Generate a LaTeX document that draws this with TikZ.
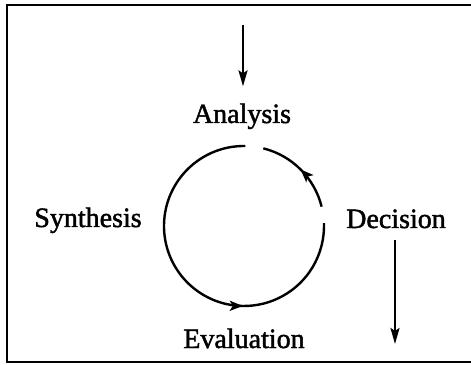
\documentclass[tikz,border=0pt]{standalone}
\usepackage{fontspec}
\setmainfont[FakeBold=1.6]{Liberation Serif}
\usetikzlibrary{arrows.meta,decorations.markings}
\begin{document}
\begin{tikzpicture}[x=1pt,y=1pt,
  label/.style={font=\fontsize{28}{30}\selectfont, anchor=base, inner sep=0pt},
  flow/.style={line width=2.4pt, -{Stealth[length=16pt,width=9pt,inset=3pt]}},
  ring/.style={line width=2.4pt},
  midtip/.style={postaction={decorate},decoration={markings,
     mark=at position #1 with {\arrow{Stealth[length=13pt,width=10pt,inset=3pt]}}}}]
  \useasboundingbox (0,0) rectangle (471,364);
  % open frame (right side runs past the page edge)
  \draw[line width=1.6pt] (471,359) -- (7,359) -- (7,2) -- (471,2);
  % stage labels
  \node[label] (ana) at (242,241) {Analysis};
  \node[label] (syn) at (88,137) {Synthesis};
  \node[label] (dec) at (396,136) {Decision};
  \node[label] (eva) at (244,16) {Evaluation};
  % incoming and outgoing arrows
  \coordinate (in) at (243,339);
  \coordinate (out) at (395,20);
  \draw[flow, shorten >=17pt] (in) -- (ana.north -| in);
  \draw[flow, shorten <=12pt] (dec.south -| out) -- (out);
  % the cycle, with gaps at Analysis and Decision
  \coordinate (c) at (244,138);
  \draw[ring, midtip=0.5] ([shift={(14:80pt)}]c) arc[start angle=14, end angle=76, radius=80pt];
  \draw[ring, midtip=0.66] ([shift={(89:80pt)}]c) arc[start angle=89, end angle=362, radius=80pt];
\end{tikzpicture}
\end{document}
